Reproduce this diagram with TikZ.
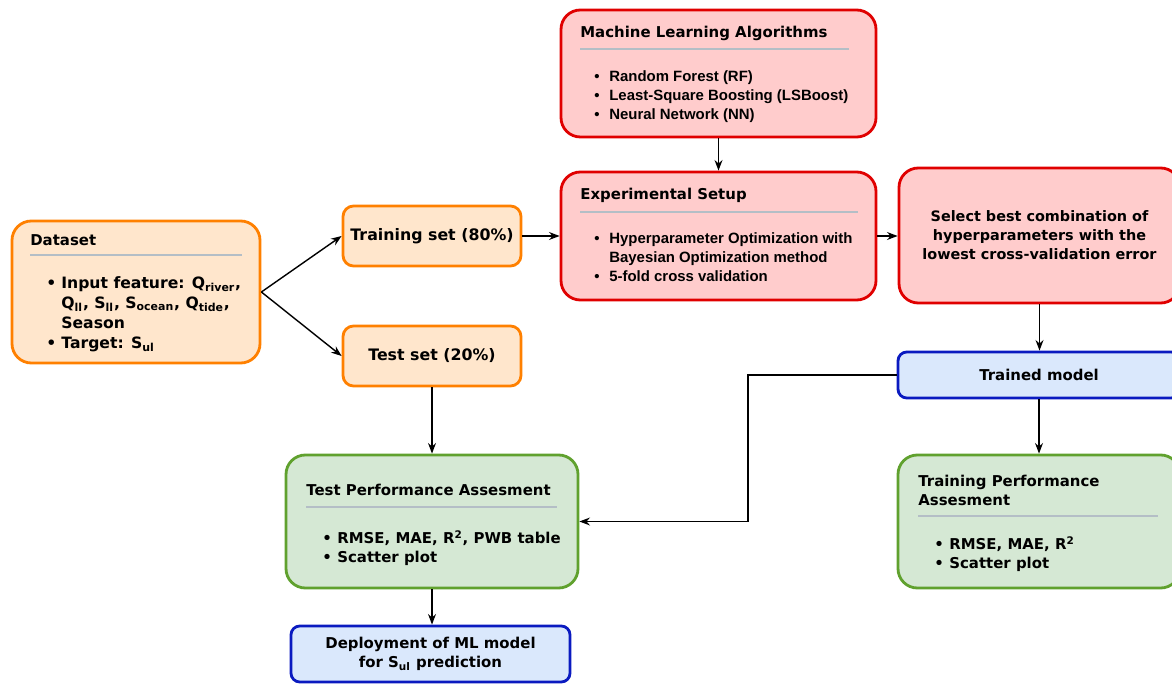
\documentclass[tikz,border=0pt]{standalone}
\usepackage{fontspec}
\setmainfont{DejaVu Sans}
\newfontfamily\arialfont{Liberation Sans}
\usetikzlibrary{arrows.meta}

\definecolor{orangefill}{HTML}{FFE6CC}
\definecolor{orangeline}{HTML}{FF8000}
\definecolor{redfill}{HTML}{FFCCCC}
\definecolor{redline}{HTML}{E00000}
\definecolor{greenfill}{HTML}{D5E8D4}
\definecolor{greenline}{HTML}{60A12E}
\definecolor{bluefill}{HTML}{DAE8FC}
\definecolor{blueline}{HTML}{0A1AC0}
\definecolor{rulegray}{HTML}{B4BEC6}

\newcommand{\itm}[1]{\makebox[0.3cm][l]{\textbullet}#1}
\newcommand{\cont}{\hspace*{0.3cm}}

\tikzset{
  wh/.style 2 args={minimum width=#1*0.02cm, minimum height=#2*0.02cm},
  box/.style={draw, line width=1.6pt, inner sep=0pt, align=center, rounded corners=#1},
  box/.default=11pt,
  setbox/.style={box=6pt, draw=orangeline, fill=orangefill, font=\fontsize{9}{10.8}\selectfont\bfseries},
  databox/.style={box, draw=orangeline, fill=orangefill},
  redbox/.style={box, draw=redline, fill=redfill},
  greenbox/.style={box, draw=greenline, fill=greenfill},
  bluebox/.style={box=5pt, draw=blueline, fill=bluefill},
  txt/.style={inner sep=0pt, align=left},
  arialtxt/.style={font=\fontsize{8.5}{10.8}\arialfont\bfseries},
  sep/.style={draw=rulegray, line width=0.6pt},
  arr/.style={-{Stealth[length=6pt,width=4.5pt]}, line width=0.8pt}
}

\begin{document}
\begin{tikzpicture}[x=0.02cm, y=-0.02cm, font=\fontsize{8.5}{10.8}\selectfont\bfseries]
  \clip (0,0) rectangle (1172,685);

  % boxes
  \node[databox, wh={248}{142}] (data) at (136,292) {};
  \node[setbox, wh={178}{60}] (train) at (432,236) {Training set (80\%)};
  \node[setbox, wh={178}{60}] (test) at (432,356) {Test set (20\%)};
  \node[redbox, wh={315}{127}] (mla) at (718.5,73.5) {};
  \node[redbox, wh={315}{128}] (exp) at (718.5,236) {};
  \node[redbox, wh={281}{135}, font=\fontsize{8.2}{10.8}\selectfont\bfseries] (select) at (1039.5,235.5)
    {Select best combination of\\hyperparameters with the\\lowest cross-validation error};
  \node[bluebox, wh={282}{46}] (trained) at (1039,375) {Trained model};
  \node[greenbox, wh={282}{133}] (trainp) at (1039,521.5) {};
  \node[greenbox, wh={292}{133}] (testp) at (432,521.5) {};
  \node[bluebox, wh={279}{56}] (deploy) at (430.5,654)
    {Deployment of ML model\\for S\textsubscript{ul} prediction};

  % box contents
  \node[txt, anchor=west] (dataT) at (30,240) {Dataset};
  \draw[sep] (30,255) -- (242,255);
  \node[txt, anchor=north west, font=\fontsize{8.9}{11.4}\selectfont\bfseries] (dataL) at (46,276)
    {\itm{Input feature: Q\textsubscript{river},}\\
     \cont Q\textsubscript{ll}, S\textsubscript{ll}, S\textsubscript{ocean}, Q\textsubscript{tide},\\
     \cont Season\\
     \itm{Target: S\textsubscript{ul}}};

  \node[txt, anchor=west] (mlaT) at (580,33) {Machine Learning Algorithms};
  \draw[sep] (580,49) -- (849,49);
  \node[txt, arialtxt, anchor=north west] (mlaL) at (594,70)
    {\itm{Random Forest (RF)}\\
     \itm{Least-Square Boosting (LSBoost)}\\
     \itm{Neural Network (NN)}};

  \node[txt, anchor=west] (expT) at (580,195) {Experimental Setup};
  \draw[sep] (580,212) -- (858,212);
  \node[txt, arialtxt, anchor=north west] (expL) at (594,232)
    {\itm{Hyperparameter Optimization with}\\
     \cont Bayesian Optimization method\\
     \itm{5-fold cross validation}};

  \node[txt, anchor=west] (testpT) at (306,490) {Test Performance Assesment};
  \draw[sep] (306,507) -- (557,507);
  \node[txt, anchor=north west] (testpL) at (322,530)
    {\itm{RMSE, MAE, R\textsuperscript{2}, PWB table}\\
     \itm{Scatter plot}};

  \node[txt, anchor=north west] (trainpT) at (918,475) {Training Performance\\Assesment};
  \draw[sep] (918,516) -- (1158,516);
  \node[txt, anchor=north west] (trainpL) at (934,536)
    {\itm{RMSE, MAE, R\textsuperscript{2}}\\
     \itm{Scatter plot}};

  % connectors
  \coordinate (elbow) at (748,521.5);
  \draw[arr] (data.east) -- (train.west);
  \draw[arr] (data.east) -- (test.west);
  \draw[arr] (train.east) -- (exp.west);
  \draw[arr] (mla.south) -- (exp.north);
  \draw[arr] (exp.east) -- (exp.east -| select.west);
  \draw[arr] (select.south) -- (select.south |- trained.north);
  \draw[arr] (trained.south) -- (trainp.north);
  \draw[arr] (trained.west) -| (elbow) -- (testp.east);
  \draw[arr] (test.south) -- (testp.north);
  \draw[arr] (testp.south) -- (testp.south |- deploy.north);
\end{tikzpicture}
\end{document}
